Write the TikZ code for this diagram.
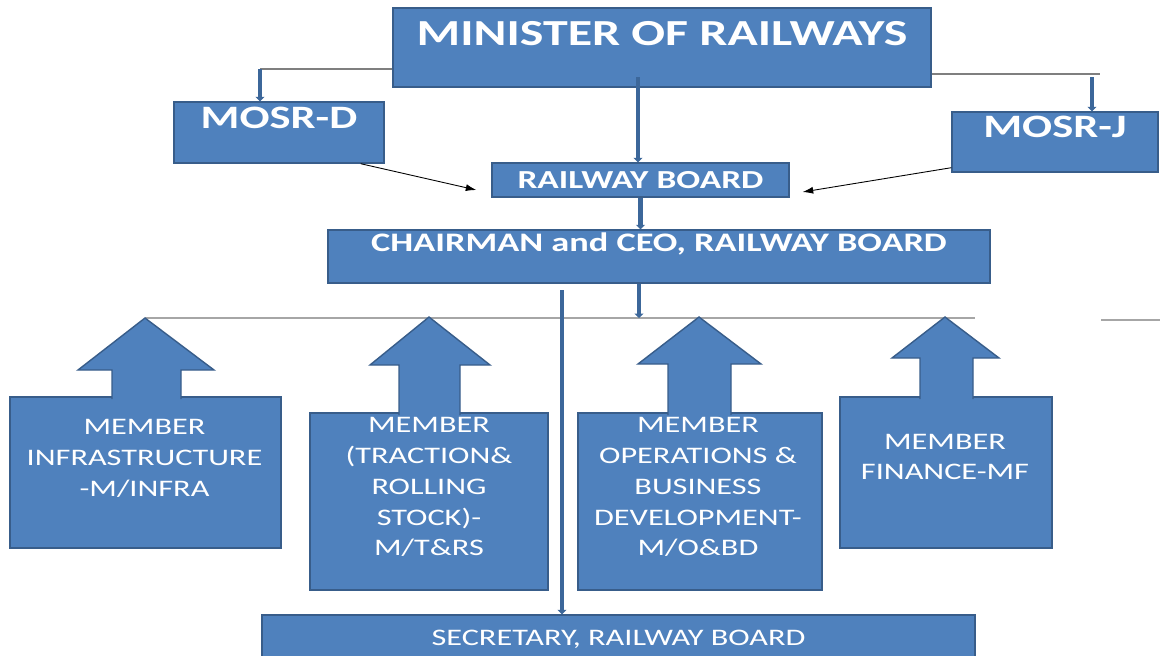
\documentclass[tikz,border=0pt]{standalone}
\usepackage{fontspec}
\setmainfont{Carlito}[FakeStretch=1.36]
\usetikzlibrary{arrows.meta,calc}
\definecolor{boxblue}{HTML}{4F81BD}
\definecolor{boxedge}{HTML}{385D8A}
\definecolor{feedblue}{HTML}{3C679A}
\definecolor{thingray}{HTML}{7F7F7F}
\definecolor{busgray}{HTML}{A6A6A6}

\begin{document}
\begin{tikzpicture}[x=0.02cm,y=-0.02cm,
	box/.style={draw=boxedge,fill=boxblue,line width=0.8pt,text=white,inner sep=0pt},
	lift/.style={draw=boxedge,fill=boxblue,line width=0.8pt},
	memtext/.style={text=white,align=center,font=\fontsize{13.5}{17.6}\selectfont},
	feed/.style={draw=feedblue,line width=2.4pt,-{Triangle[width=5pt,length=2.5pt]}},
	thinlink/.style={draw=thingray,line width=0.7pt},
	buslink/.style={draw=busgray,line width=0.9pt},
	ptr/.style={draw=black,line width=0.5pt,-{Latex[length=6pt,width=4pt]}}]
			\useasboundingbox (0,0) rectangle (1160,656);
			\node[box,font=\bfseries\fontsize{20.9}{25}\selectfont,minimum width=10.76cm,text height=0.74cm,text depth=0.84cm] (min) at (662,47.5) {MINISTER OF RAILWAYS};
			\node[box,font=\bfseries\fontsize{18.6}{22}\selectfont,minimum width=4.2cm,text height=0.52cm,text depth=0.7cm] (mosrd) at (279,132.5) {MOSR-D};
			\node[box,font=\bfseries\fontsize{18.6}{22}\selectfont,minimum width=4.12cm,text height=0.5cm,text depth=0.7cm] (mosrj) at (1055,142) {MOSR-J};
			\node[box,font=\bfseries\fontsize{14.8}{17}\selectfont,minimum width=5.94cm,text height=0.5cm,text depth=0.18cm] (rb) at (640.5,180) {RAILWAY BOARD};
			\node[box,font=\bfseries\fontsize{15.2}{19}\selectfont,minimum width=13.24cm,text height=0.42cm,text depth=0.64cm] (chair) at (659,256.5) {CHAIRMAN and CEO, RAILWAY BOARD};
			\node[box,font=\fontsize{13.5}{16}\selectfont,minimum width=14.26cm,text height=0.6cm,text depth=0.34cm] (sec) at (618.5,638.5) {SECRETARY, RAILWAY BOARD};
			\node[box,minimum width=5.42cm,minimum height=3.02cm] (infra) at (145.5,472.5) {};
			\node[box,minimum width=4.76cm,minimum height=3.54cm] (trac) at (429,501.5) {};
			\node[box,minimum width=4.88cm,minimum height=3.54cm] (ops) at (700,501.5) {};
			\node[box,minimum width=4.24cm,minimum height=3.02cm] (fin) at (946,472.5) {};
			\coordinate (dl) at (260,69);
			\coordinate (dr) at (1100,74);
			\coordinate (dj) at (1092,77);
			\coordinate (mc) at (638,77);
			\coordinate (drop) at (639,318);
			\coordinate (busl) at (145,318);
			\coordinate (busr) at (975,318);
			\coordinate (stubl) at (1101,320);
			\coordinate (stubr) at (1160,320);
			\coordinate (secfeed) at (562,290);
			\draw[buslink] (busl) -- (busr);
			\draw[buslink] (stubl) -- (stubr);
			\filldraw[lift] (112,399) -- (112,370) -- (78,370) -- (busl) -- (214,370) -- (181,370) -- (181,399);
			\filldraw[lift] (399,415) -- (399,365) -- (370,365) -- (429,317) -- (490,365) -- (460,365) -- (460,415);
			\filldraw[lift] (668,415) -- (668,364) -- (638,364) -- (699,317) -- (761,364) -- (731,364) -- (731,415);
			\filldraw[lift] (920,399) -- (920,358) -- (892,358) -- (945,317) -- (999,358) -- (973,358) -- (973,399);
			\node[memtext] (infratext) at (144.5,458) {MEMBER\\INFRASTRUCTURE\\-M/INFRA};
			\node[memtext] (tractext) at (429,487) {MEMBER\\(TRACTION\&\\ROLLING\\STOCK)-\\M/T\&RS};
			\node[memtext] (opstext) at (698,487) {MEMBER\\OPERATIONS \&\\BUSINESS\\DEVELOPMENT-\\M/O\&BD};
			\node[memtext] (fintext) at (945,457) {MEMBER\\FINANCE-MF};
			\draw[thinlink] (min.west |- dl) -- (dl);
			\draw[feed] (dl) -- (mosrd.north -| dl);
			\draw[thinlink] (min.east |- dr) -- (dr);
			\draw[feed] (dj) -- (mosrj.north -| dj);
			\draw[feed] (mc) -- (rb.north -| mc);
			\draw[feed] (rb.south) -- (rb.south |- chair.north);
			\draw[feed] (chair.south -| drop) -- (drop);
			\draw[feed] (secfeed) -- (sec.north -| secfeed);
			\draw[ptr] ($(mosrd.south east)+(-24,0)$) -- ($(rb.west)+(-15,10)$);
			\draw[ptr] ($(mosrj.south west)+(0,-5)$) -- ($(rb.east)+(13,12)$);
		\end{tikzpicture}
\end{document}
